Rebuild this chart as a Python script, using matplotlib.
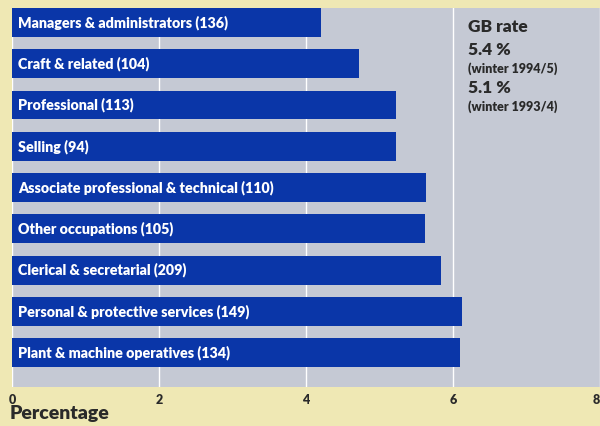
import numpy as np
import matplotlib.pyplot as plt

occupations = ['Managers & administrators', 'Craft & related', 'Professional', 'Selling',
               'Associate professional & technical', 'Other occupations',
               'Clerical & secretarial', 'Personal & protective services',
               'Plant & machine operatives']
counts = [136, 104, 113, 94, 110, 105, 209, 149, 134]
rates = [4.21, 4.72, 5.23, 5.23, 5.63, 5.62, 5.83, 6.12, 6.10]
xticks = [0, 2, 4, 6, 8]

plt.rcParams['font.family'] = ['Lato', 'DejaVu Sans']

fig = plt.figure(figsize=(6, 4.26), dpi=100)
fig.patch.set_facecolor('#efe8b4')
ax = fig.add_axes([12 / 600, 39 / 426, 588 / 600, 379 / 426])
ax.set_facecolor('#c5c9d4')

y = np.arange(len(occupations))
ax.barh(y, rates, height=0.7, color='#0a36a8', zorder=3)
for i in y:
    ax.text(0.08, i, f'{occupations[i]} ({counts[i]})', color='white', fontsize=10.3,
            fontweight='heavy', va='center', ha='left', zorder=4)

ax.set_xlim(0, 8)
ax.set_ylim(8.83, -0.35)
ax.set_yticks([])
ax.set_xticks(xticks)
ax.set_xticklabels([str(t) for t in xticks], fontsize=9, fontweight='heavy', color='#2a2a2a')
ax.get_xticklabels()[-1].set_horizontalalignment('right')
ax.tick_params(axis='x', length=0, pad=5)
ax.grid(axis='x', color='white', linewidth=1, zorder=1)
for s in ax.spines.values():
    s.set_visible(False)

# GB rate box on the right
tc = '#2a2a2a'
ax.text(6.2, 0.11, 'GB rate', fontsize=12.5, fontweight='heavy', color=tc, va='center')
ax.text(6.2, 0.67, '5.4 %', fontsize=12.5, fontweight='heavy', color=tc, va='center')
ax.text(6.2, 1.13, '(winter 1994/5)', fontsize=9, fontweight='heavy', color=tc, va='center')
ax.text(6.2, 1.59, '5.1 %', fontsize=12.5, fontweight='heavy', color=tc, va='center')
ax.text(6.2, 2.05, '(winter 1993/4)', fontsize=9, fontweight='heavy', color=tc, va='center')

fig.text(10 / 600, 1 - 413 / 426, 'Percentage', fontsize=14, fontweight='heavy',
         color=tc, ha='left', va='center')

plt.savefig('out.png', dpi=100)
